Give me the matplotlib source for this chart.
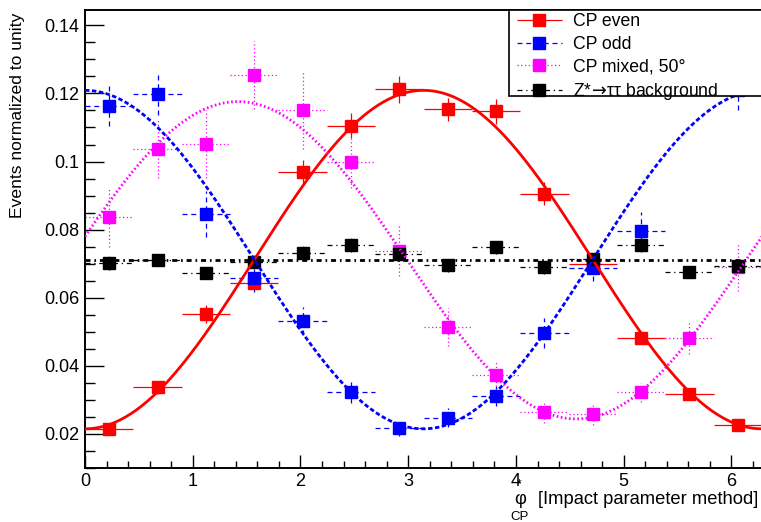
import numpy as np
import matplotlib
matplotlib.use("Agg")
import matplotlib.pyplot as plt
from matplotlib.lines import Line2D
from matplotlib.patches import Rectangle

plt.rcParams['font.family'] = ['Liberation Sans', 'DejaVu Sans']
plt.rcParams['mathtext.fontset'] = 'dejavusans'

# 14 bins in phi*_CP from 0 to 2pi
nbins = 14
edges = np.linspace(0, 2 * np.pi, nbins + 1)
centers = 0.5 * (edges[1:] + edges[:-1])
halfw = 0.5 * (edges[1] - edges[0])

even = [0.0214, 0.0337, 0.0552, 0.0644, 0.0970, 0.1105, 0.1212,
        0.1154, 0.1148, 0.0906, 0.0700, 0.0481, 0.0316, 0.0226]
even_err = [0.0010, 0.0019, 0.0027, 0.0021, 0.0034, 0.0037, 0.0039,
            0.0034, 0.0037, 0.0033, 0.0025, 0.0015, 0.0010, 0.0010]

odd = [0.1163, 0.1197, 0.0845, 0.0657, 0.0532, 0.0322, 0.0218,
       0.0248, 0.0312, 0.0497, 0.0688, 0.0797, 0.1280, 0.1210]
odd_err = [0.0059, 0.0060, 0.0068, 0.0040, 0.0040, 0.0030, 0.0025,
           0.0027, 0.0030, 0.0044, 0.0040, 0.0056, 0.0050, 0.0060]

mixed = [0.0836, 0.1038, 0.1051, 0.1253, 0.1151, 0.0999, 0.0738,
         0.0515, 0.0373, 0.0263, 0.0259, 0.0322, 0.0481, 0.0690]
mixed_err = [0.0086, 0.0086, 0.0100, 0.0100, 0.0115, 0.0076, 0.0073,
             0.0056, 0.0044, 0.0032, 0.0032, 0.0029, 0.0047, 0.0070]

bkg = [0.0702, 0.0712, 0.0674, 0.0705, 0.0731, 0.0754, 0.0729,
       0.0695, 0.0748, 0.0689, 0.0715, 0.0754, 0.0676, 0.0692]
bkg_err = [0.0020, 0.0018, 0.0020, 0.0020, 0.0020, 0.0020, 0.0020,
           0.0018, 0.0020, 0.0020, 0.0020, 0.0020, 0.0018, 0.0020]

# fit results: p0 + p1*cos(x - p2)
fit_even = (0.0712, -0.0497, 0.0)
fit_odd = (0.0712, 0.0497, 0.0)
fit_mixed = (0.0710, 0.0466, 1.42)
fit_bkg = (0.0711, 0.0, 0.0)

labels = ['CP even', 'CP odd', u'CP mixed, 50\u00b0',
          u'Z*$\\!\\rightarrow\\!$\u03c4\u03c4 background']

fig = plt.figure(figsize=(7.61, 5.22), dpi=100)
ax = fig.add_axes([85 / 761, 1 - 468 / 522, 677 / 761, 458 / 522])

xf = np.linspace(0, 2 * np.pi, 400)

series = [
    (even, even_err, fit_even, 'red', None, (0, (4, 0))),
    (odd, odd_err, fit_odd, 'blue', (1.6, 0.9), (0, (4, 3))),
    (mixed, mixed_err, fit_mixed, 'magenta', (0.6, 0.9), (0, (1, 2))),
    (bkg, bkg_err, fit_bkg, 'black', (1.8, 1.4, 0.6, 1.4), (0, (4, 3, 1, 3))),
]

handles = []
for vals, errs, fit, col, dash, barls in series:
    p0, p1, p2 = fit
    yf = p0 + p1 * np.cos(xf - p2)
    if dash is None:
        ax.plot(xf, yf, color=col, lw=2.0, zorder=4)
    else:
        ax.plot(xf, yf, color=col, lw=2.0, dashes=dash, zorder=4)
    eb = ax.errorbar(centers, vals, yerr=errs, xerr=halfw, fmt='s', color=col,
                     ms=8, elinewidth=0.9, capsize=0, zorder=3)
    for lc in eb[2]:
        lc.set_linestyle(barls)
    handles.append(Line2D([], [], color=col, lw=0.9, linestyle=barls,
                          marker='s', ms=8))

ax.set_xlim(0, 2 * np.pi)
ax.set_ylim(0.01, 0.1445)
ax.set_xticks(np.arange(0, 7, 1))
ax.set_xticks(np.arange(0, 6.3, 0.2), minor=True)
ax.set_yticks([0.02, 0.04, 0.06, 0.08, 0.1, 0.12, 0.14])
ax.set_yticklabels(['0.02', '0.04', '0.06', '0.08', '0.1', '0.12', '0.14'])
ax.set_yticks(np.arange(0.01, 0.145, 0.005), minor=True)
ax.tick_params(axis='both', which='both', direction='in', top=False, right=False,
               labelsize=13, width=1)
ax.tick_params(axis='y', which='major', length=14, pad=4)
ax.tick_params(axis='y', which='minor', length=7)
ax.tick_params(axis='x', which='major', length=9.5, pad=3.5)
ax.tick_params(axis='x', which='minor', length=5)
for sp in ax.spines.values():
    sp.set_linewidth(1.4)

fig.text(18 / 761, 1 - 13 / 522, 'Events normalized to unity', rotation=90,
         ha='center', va='top', fontsize=12.6)

# x title: phi with * above and CP below, ROOT style
fig.text(758 / 761, 1 - 504 / 522, '[Impact parameter method]',
         ha='right', va='baseline', fontsize=13.2)
fig.text(514 / 761, 1 - 504 / 522, u'\u03c6', ha='left', va='baseline', fontsize=13.2)
fig.text(519 / 761, 1 - 484 / 522, '*', ha='center', va='center', fontsize=8.5)
fig.text(520 / 761, 1 - 520.5 / 522, 'CP', ha='center', va='baseline', fontsize=9.5)

# legend box (runs off the right edge like the original)
box = Rectangle((509 / 761, 1 - 96 / 522), 260 / 761, 86 / 522,
                transform=fig.transFigure, facecolor='white', edgecolor='black',
                lw=1.2, zorder=10, clip_on=False)
fig.add_artist(box)
leg = fig.legend(handles, labels, loc='upper left',
                 bbox_to_anchor=(517 / 761, 1 - 13 / 522), frameon=False,
                 fontsize=12.7, handlelength=2.55, handletextpad=0.6,
                 labelspacing=0.33, borderpad=0, borderaxespad=0)
leg.set_zorder(11)

fig.savefig('out.png', dpi=100)
